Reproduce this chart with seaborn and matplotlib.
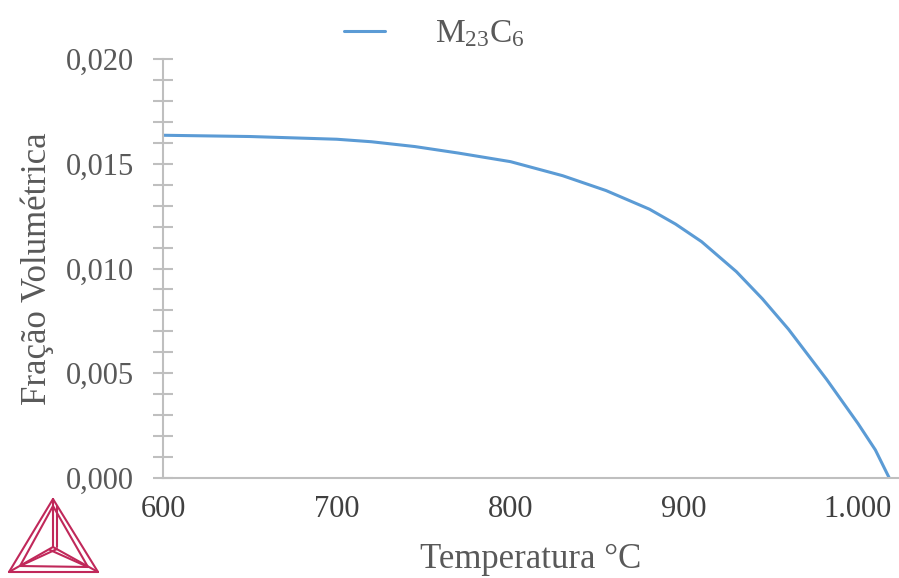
import matplotlib
matplotlib.use("Agg")
import matplotlib.pyplot as plt
import seaborn as sns
import pandas as pd
from matplotlib.lines import Line2D
from matplotlib.ticker import MultipleLocator, FuncFormatter

temperature = [600, 650, 700, 720, 745, 770, 800, 830, 855, 880, 895, 910, 930, 945, 960,
               982, 1000, 1010, 1018]
fraction = [0.01636, 0.01630, 0.01617, 0.01605, 0.01582, 0.01551, 0.01510, 0.01443,
            0.01372, 0.01283, 0.01212, 0.01128, 0.00985, 0.00855, 0.00710, 0.00470, 0.00260,
            0.00134, 0.0]
series_name = "M$_{23}$C$_6$"
x_ticks = [600, 700, 800, 900, 1000]
y_ticks = [0.000, 0.005, 0.010, 0.015, 0.020]

sns.set_theme(style="white")
plt.rcParams['font.family'] = ['Liberation Serif', 'DejaVu Serif']
plt.rcParams['mathtext.fontset'] = 'custom'
plt.rcParams['mathtext.rm'] = 'Liberation Serif'
plt.rcParams['mathtext.it'] = 'Liberation Serif'

df = pd.DataFrame({"T": temperature, "f": fraction})

fig = plt.figure(figsize=(8.99, 5.78), dpi=100)
ax = fig.add_axes([163/899, 1-478/578, (899-163)/899, (478-59)/578])

sns.lineplot(data=df, x="T", y="f", ax=ax, color="#5b9bd5", linewidth=2.2, legend=False)

ax.set_xlim(600, 1023.6)
ax.set_ylim(0, 0.020)
ax.set_xticks(x_ticks)
ax.set_yticks(y_ticks)
ax.yaxis.set_minor_locator(MultipleLocator(0.001))

def fmt_y(v, p):
    return f"{v:.3f}".replace(".", ",")
def fmt_x(v, p):
    return f"{int(round(v)):,}".replace(",", ".")
ax.yaxis.set_major_formatter(FuncFormatter(fmt_y))
ax.xaxis.set_major_formatter(FuncFormatter(fmt_x))

for s in ["top", "right"]:
    ax.spines[s].set_visible(False)
for s in ["left", "bottom"]:
    ax.spines[s].set_color("#bfbfbf")
    ax.spines[s].set_linewidth(1.5)

ax.tick_params(axis="y", which="both", direction="inout", length=14, width=1.5, color="#bfbfbf",
               labelsize=22, labelcolor="#595959", pad=14, left=True)
ax.tick_params(axis="x", which="both", length=0, labelsize=22, labelcolor="#404040", pad=12)

ax.set_xlabel("Temperatura °C", fontsize=25, color="#595959", labelpad=14)
ax.set_ylabel("Fração Volumétrica", fontsize=25, color="#595959", labelpad=8)

handle = Line2D([], [], color="#5b9bd5", linewidth=2.2)
fig.legend([handle], [series_name], loc="upper center", bbox_to_anchor=(0.483, 1.02), frameon=False,
           fontsize=24, handlelength=1.25, handletextpad=1.5, labelcolor="#595959")

# Logo (triangle emblem) in pixel coordinates
def px(x, y):
    return x/899, 1-y/578
logo_color = "#c0285a"
segments = [
    [(53, 499), (9, 572)], [(9, 572), (98, 572)], [(98, 572), (53, 499)],
    [(53, 506), (20, 566)], [(20, 566), (88, 567)], [(88, 567), (53, 506)],
    [(53, 499), (53, 547)], [(57, 506), (57, 547)],
    [(53, 547), (9, 572)], [(53, 547), (98, 572)], [(57, 549), (20, 566)], [(50, 550), (88, 567)],
]
for (a, b) in segments:
    x0, y0 = px(*a); x1, y1 = px(*b)
    fig.add_artist(Line2D([x0, x1], [y0, y1], transform=fig.transFigure, color=logo_color, linewidth=1.5))

fig.savefig("out.png", dpi=100)
